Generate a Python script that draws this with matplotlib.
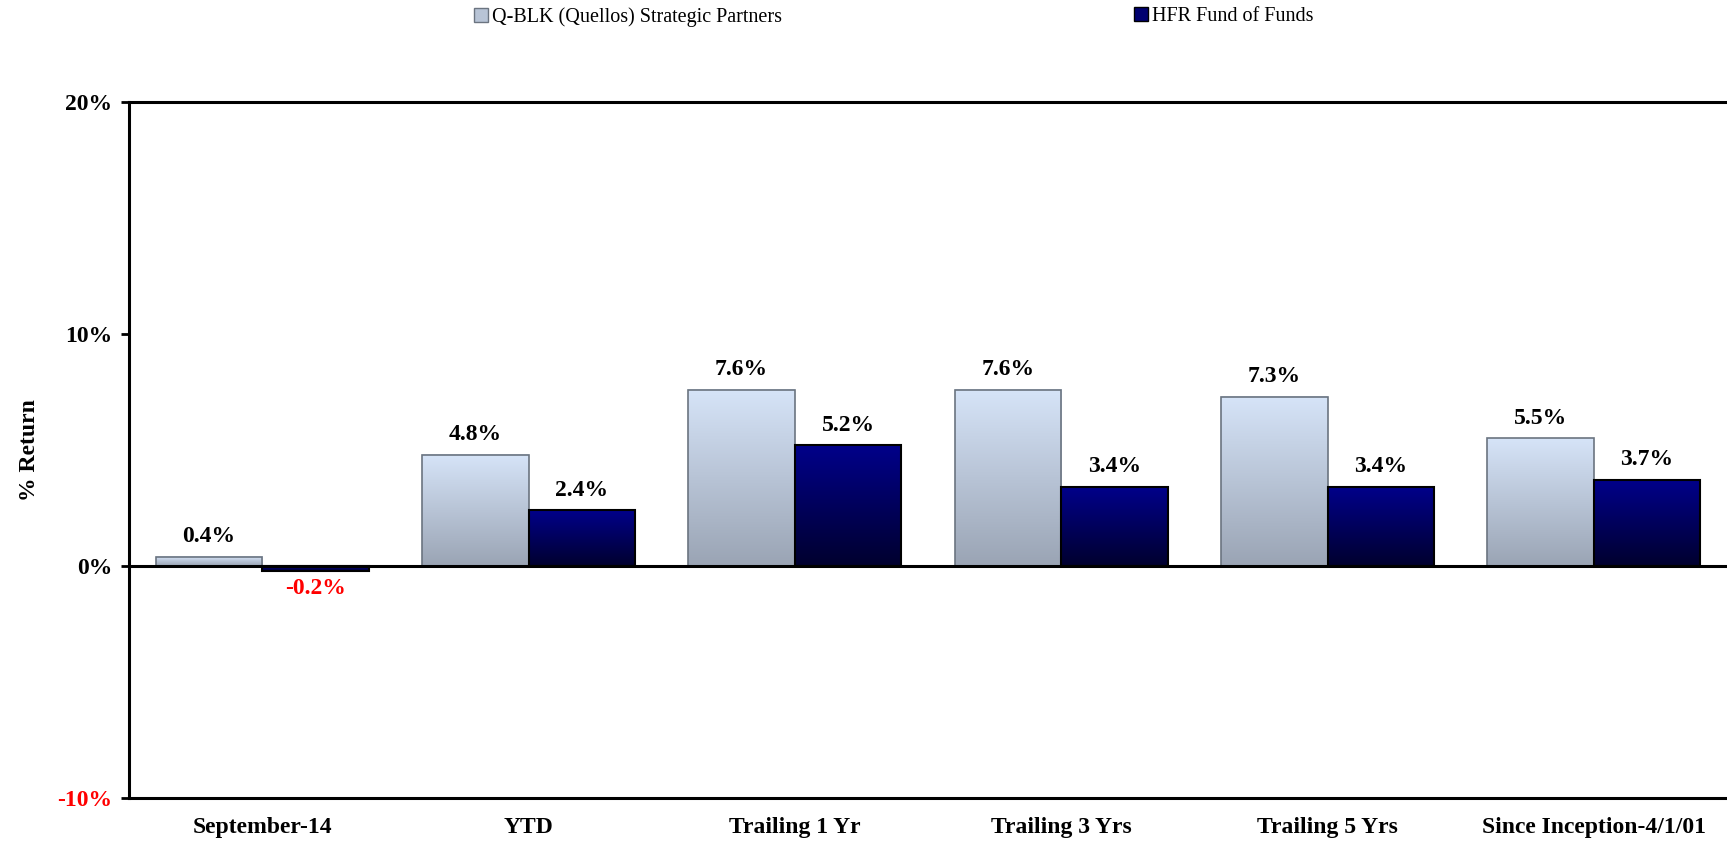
import numpy as np
import matplotlib.pyplot as plt
from matplotlib.patches import Patch
from matplotlib.colors import LinearSegmentedColormap

categories = ["September-14", "YTD", "Trailing 1 Yr", "Trailing 3 Yrs",
              "Trailing 5 Yrs", "Since Inception-4/1/01"]
series_names = ["Q-BLK (Quellos) Strategic Partners", "HFR Fund of Funds"]
qblk = [0.4, 4.8, 7.6, 7.6, 7.3, 5.5]
hfr = [-0.2, 2.4, 5.2, 3.4, 3.4, 3.7]
yticks = [-10, 0, 10, 20]

plt.rcParams["font.family"] = ["Liberation Serif", "DejaVu Serif"]

light_cmap = LinearSegmentedColormap.from_list("light", ["#d6e4f8", "#9aa4b4"])
dark_cmap = LinearSegmentedColormap.from_list("dark", ["#00008a", "#00002e"])

fig = plt.figure(figsize=(17.27, 8.42), dpi=100)
ax = fig.add_axes([0.0747, 0.0523, 0.9253, 0.8266])

x = np.arange(len(categories))
w = 0.4
b1 = ax.bar(x - w / 2, qblk, w, facecolor="none", edgecolor="#6b7480", linewidth=1.2, zorder=3)
b2 = ax.bar(x + w / 2, hfr, w, facecolor="none", edgecolor="black", linewidth=1.5, zorder=3)

# vertical gradient inside every bar
grad = np.linspace(0, 1, 256).reshape(-1, 1)
for bars, cmap in ((b1, light_cmap), (b2, dark_cmap)):
    for r in bars:
        x0, y0 = r.get_x(), r.get_y()
        h = r.get_height()
        y_lo, y_hi = min(y0, y0 + h), max(y0, y0 + h)
        ax.imshow(grad, cmap=cmap, aspect="auto", origin="upper",
                  extent=(x0, x0 + r.get_width(), y_lo, y_hi), zorder=2)

def label(bars, vals):
    for r, v in zip(bars, vals):
        cx = r.get_x() + r.get_width() / 2
        if v >= 0:
            ax.annotate(f"{v:.1f}%", (cx, v), xytext=(0, 7), textcoords="offset points",
                        ha="center", va="bottom", fontsize=17, fontweight="bold")
        else:
            ax.annotate(f"{v:.1f}%", (cx, v), xytext=(0, -5), textcoords="offset points",
                        ha="center", va="top", fontsize=17, fontweight="bold", color="red")

label(b1, qblk)
label(b2, hfr)

ax.axhline(0, color="black", linewidth=2.2, zorder=4)
ax.set_xlim(-0.5, len(categories) - 0.5)
ax.set_ylim(-10, 20)
ax.set_yticks(yticks)
ax.set_yticklabels([f"{t}%" for t in yticks], fontsize=17, fontweight="bold")
ax.get_yticklabels()[0].set_color("red")
ax.set_xticks(x)
ax.set_xticklabels(categories, fontsize=17, fontweight="bold")
ax.tick_params(axis="x", length=0, pad=14)
ax.tick_params(axis="y", length=6, width=2, pad=6)
ax.set_ylabel("% Return", fontsize=17, fontweight="bold")
ax.yaxis.set_label_coords(-0.056, 0.5)

for s in ("left", "bottom", "top"):
    ax.spines[s].set_linewidth(2.2)
ax.spines["right"].set_visible(False)

handles = [Patch(facecolor="#b8c4d6", edgecolor="#6b7480"),
           Patch(facecolor="#000070", edgecolor="black")]
for hnd, name, xpos in zip(handles, series_names, (474 / 1727, 1134 / 1727)):
    fig.legend([hnd], [name], loc="center left", bbox_to_anchor=(xpos, 0.980),
               frameon=False, fontsize=14.5, handlelength=0.7, handleheight=0.7,
               handletextpad=0.2, borderpad=0, borderaxespad=0)

fig.savefig("out.png", dpi=100)
